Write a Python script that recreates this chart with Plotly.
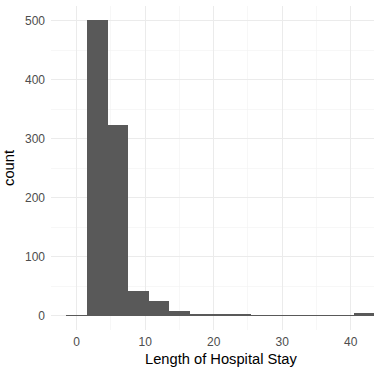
import plotly.graph_objects as go

# Histogram bins (binwidth 3, centred on multiples of 3)
bin_centers = [0, 3, 6, 9, 12, 15, 18, 21, 24, 27, 30, 33, 36, 39, 42]
counts = [1, 501, 323, 42, 25, 8, 3, 3, 3, 1, 1, 1, 1, 1, 4]
bin_width = 3

x_ticks = [0, 10, 20, 30, 40]
y_ticks = [0, 100, 200, 300, 400, 500]

fig = go.Figure()
fig.add_trace(go.Bar(
    x=bin_centers, y=counts, width=[bin_width] * len(bin_centers),
    marker=dict(color="#595959", line=dict(width=0)),
    showlegend=False,
))

grid = "#ebebeb"
fig.update_layout(
    width=374, height=367,
    margin=dict(l=51, r=0, t=6, b=37, pad=0),
    paper_bgcolor="white", plot_bgcolor="white",
    font=dict(family="Liberation Sans, Arial, sans-serif", size=12, color="#4d4d4d"),
    bargap=0,
    xaxis=dict(
        range=[-3.75, 43.4], tickvals=x_ticks, ticks="", showline=False, zeroline=False,
        showgrid=True, gridcolor=grid, gridwidth=1, automargin=False,
        minor=dict(dtick=5, tick0=5, showgrid=True, gridcolor="#f2f2f2", gridwidth=0.6),
        tickfont=dict(size=12, color="#4d4d4d"), ticklabelstandoff=3,
    ),
    yaxis=dict(
        range=[-24.26, 525.4], tickvals=y_ticks, ticks="", showline=False, zeroline=False,
        showgrid=True, gridcolor=grid, gridwidth=1, automargin=False,
        minor=dict(dtick=100, tick0=50, showgrid=True, gridcolor="#f2f2f2", gridwidth=0.6),
        tickfont=dict(size=12, color="#4d4d4d"), ticklabelstandoff=5,
        title=dict(text="count", font=dict(size=14.7, color="black"), standoff=6),
    ),
    annotations=[dict(
        text="Length of Hospital Stay", xref="paper", yref="paper",
        x=(221 - 51) / 323, y=-(349 - 330) / 324, xanchor="center", yanchor="top",
        showarrow=False, font=dict(size=14.7, color="black"),
    )],
)

fig.write_html(
    "out.html",
    config={"displayModeBar": False, "staticPlot": True},
    post_script="document.body.style.margin='0';document.body.style.overflow='hidden';",
)
